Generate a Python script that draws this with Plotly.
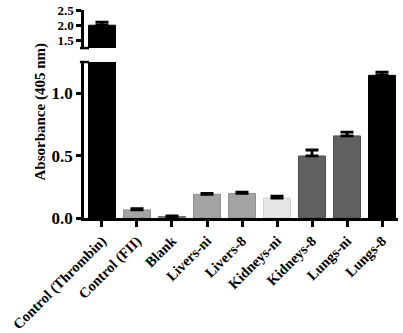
import plotly.graph_objects as go

categories = ["Control (Thrombin)", "Control (FII)", "Blank", "Livers-ni", "Livers-8",
              "Kidneys-ni", "Kidneys-8", "Lungs-ni", "Lungs-8"]
values = [2.0, 0.065, 0.012, 0.19, 0.197, 0.16, 0.497, 0.658, 1.143]
errors = [0.10, 0.010, 0.004, 0.008, 0.010, 0.015, 0.048, 0.030, 0.025]
colors = ["#000000", "#a4a4a4", "#8a8a8a", "#a4a4a4", "#a4a4a4",
          "#e6e6e6", "#616161", "#616161", "#000000"]
outline = ["#000000", "#8e8e8e", "#6a6a6a", "#8e8e8e", "#8e8e8e",
           "#d2d2d2", "#4e4e4e", "#4e4e4e", "#000000"]
lower_ticks = [0.0, 0.5, 1.0]
upper_ticks = [1.5, 2.0, 2.5]

FONT = "Liberation Serif"
x_idx = list(range(len(categories)))

def bar(xa, ya):
    return go.Bar(
        x=x_idx, y=values, xaxis=xa, yaxis=ya, width=0.77,
        marker=dict(color=colors, line=dict(color=outline, width=1)),
        error_y=dict(type="data", array=errors, arrayminus=[0]*len(errors),
                     symmetric=False, color="black", thickness=2.8, width=6.5),
        showlegend=False, hoverinfo="skip",
    )

fig = go.Figure([bar("x", "y"), bar("x2", "y2")])

fig.update_layout(
    width=403, height=333,
    margin=dict(l=84, r=5, t=10, b=115, autoexpand=False),
    plot_bgcolor="white", paper_bgcolor="white",
    bargap=0.23,
    xaxis=dict(
        domain=[0, 1], range=[-0.514, 8.457], anchor="y", automargin=False,
        tickmode="array", tickvals=x_idx, ticktext=["<b>%s</b>" % c for c in categories],
        tickangle=-45, autotickangles=[-45], ticks="outside", ticklen=6, tickwidth=2.5, tickcolor="black",
        showline=True, linecolor="black", linewidth=2.5, showgrid=False, zeroline=False,
        tickfont=dict(family=FONT, size=14.5, color="black"),
    ),
    yaxis=dict(
        domain=[0, 0.75], range=[0, 1.25], anchor="x", automargin=False,
        tickmode="array", tickvals=lower_ticks, ticktext=["<b>%.1f</b>" % v for v in lower_ticks],
        ticks="outside", ticklen=5, tickwidth=2.5, tickcolor="black",
        showline=True, linecolor="black", linewidth=2.5, showgrid=False, zeroline=False,
        tickfont=dict(family=FONT, size=17, color="black"),
    ),
    xaxis2=dict(
        domain=[0, 1], range=[-0.514, 8.457], anchor="y2", automargin=False,
        showticklabels=False, ticks="", showline=False, showgrid=False, zeroline=False,
    ),
    yaxis2=dict(
        domain=[0.817, 1], range=[1.25, 2.5], anchor="x2", automargin=False,
        tickmode="array", tickvals=upper_ticks, ticktext=["<b>%.1f</b>" % v for v in upper_ticks],
        ticks="outside", ticklen=5, tickwidth=2.5, tickcolor="black",
        showline=True, linecolor="black", linewidth=2.5, showgrid=False, zeroline=False,
        tickfont=dict(family=FONT, size=13, color="black"),
    ),
    annotations=[dict(
        text="<b>Absorbance (405 nm)</b>", textangle=-90,
        xref="paper", yref="paper", x=-0.137, y=0.512,
        xanchor="center", yanchor="middle", showarrow=False,
        font=dict(family=FONT, size=15, color="black"),
    )],
    shapes=[
        dict(type="line", xref="paper", yref="paper", x0=-0.013, x1=0.016,
             y0=0.75, y1=0.75, line=dict(color="black", width=2.5)),
        dict(type="line", xref="paper", yref="paper", x0=-0.013, x1=0.016,
             y0=0.817, y1=0.817, line=dict(color="black", width=2.5)),
    ],
)

fig.write_html("out.html", config={"displayModeBar": False},
               post_script="document.body.style.margin='0';")
